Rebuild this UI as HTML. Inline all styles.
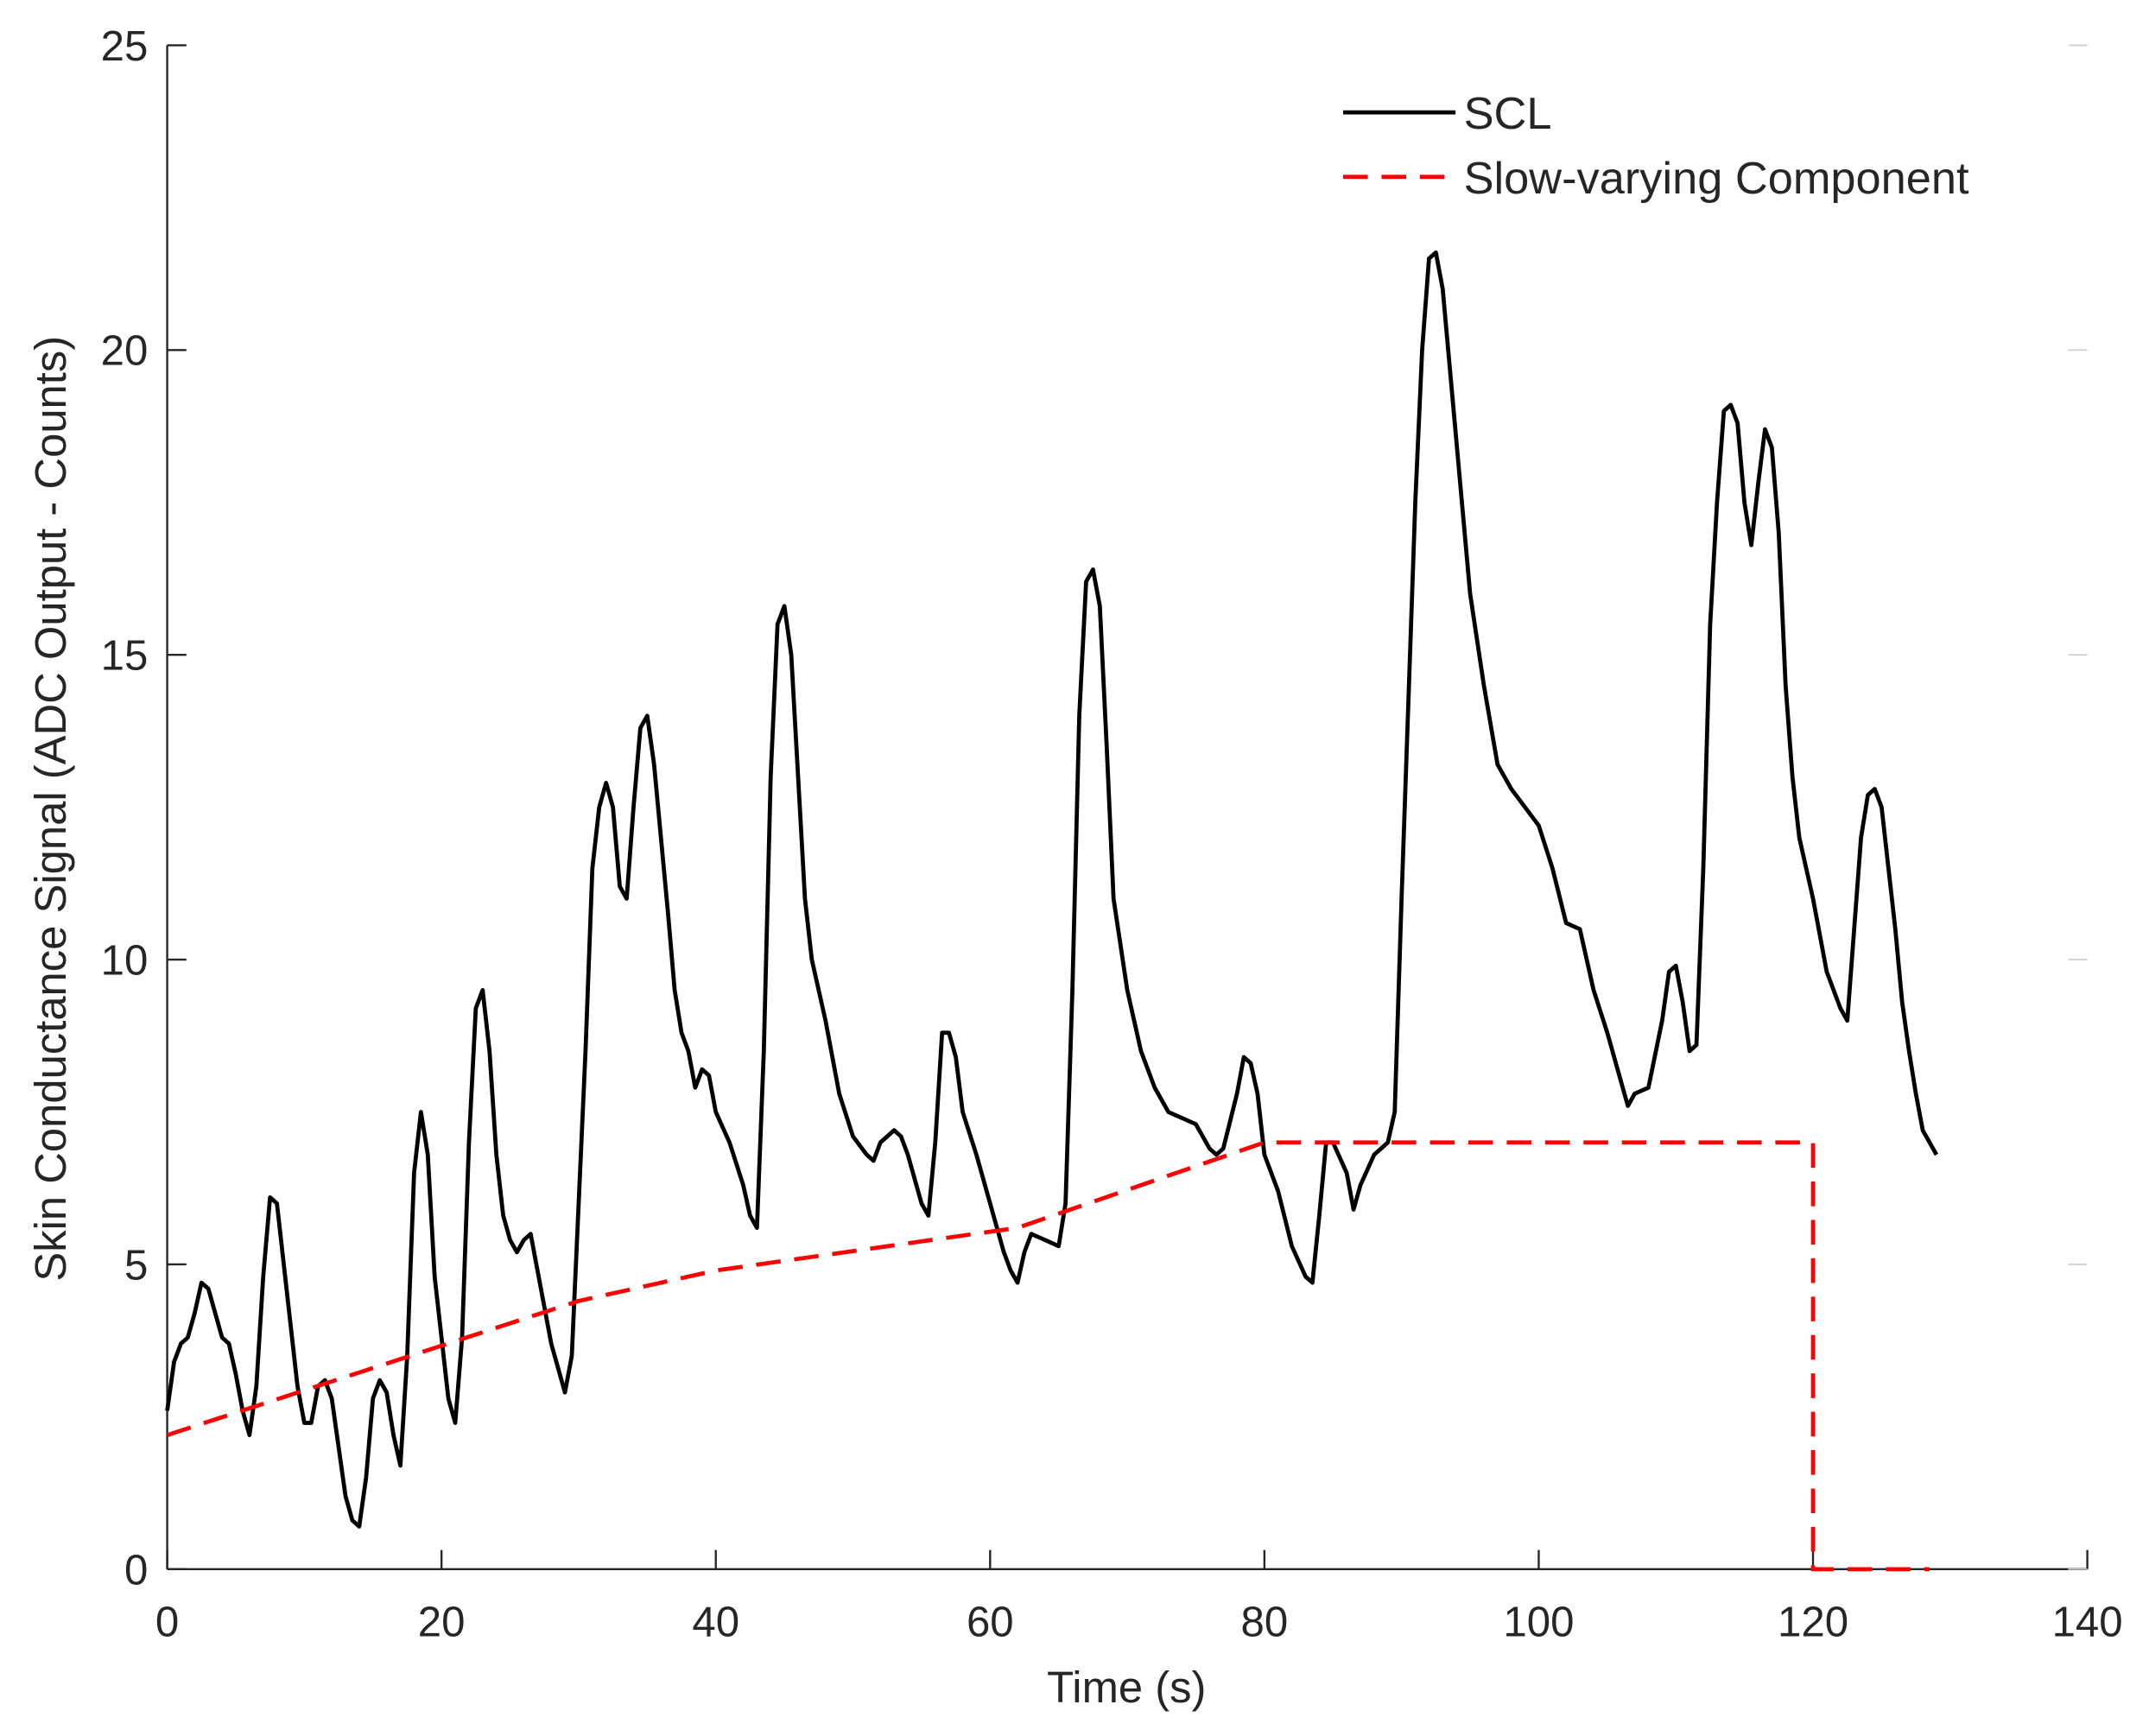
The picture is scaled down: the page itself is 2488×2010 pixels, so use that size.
<!DOCTYPE html>
<html><head><meta charset="utf-8"><style>
html,body{margin:0;padding:0;background:#fff}
svg{display:block}
text{font-family:"Liberation Sans",Arial,sans-serif;fill:#262626}
</style></head><body>
<svg id="chart" width="2488" height="2010" viewBox="0 0 1568 1266.7" xmlns="http://www.w3.org/2000/svg">
<g id="axes"></g>
<g id="series"></g>
<g>
<line x1="980" y1="82" x2="1062" y2="82" stroke="#000" stroke-width="3"/>
<text x="1068" y="94" font-size="33">SCL</text>
<line x1="980" y1="129" x2="1062" y2="129" stroke="#f00" stroke-width="3" stroke-dasharray="18,10"/>
<text x="1068" y="141" font-size="33">Slow-varying Component</text>
</g>
<text x="822" y="1242" font-size="32" text-anchor="middle">Time (s)</text>
<text transform="translate(48,590) rotate(-90)" font-size="32" text-anchor="middle">Skin Conductance Signal (ADC Output - Counts)</text>
</svg>
<script>
const xTicks=[0,20,40,60,80,100,120,140];
const yTicks=[0,5,10,15,20,25];
const sclTime=[0,0.5,1,1.5,2,2.5,3,3.5,4,4.5,5,5.5,6,6.5,7,7.5,8,8.5,9,9.5,10,10.5,11,11.5,12,12.5,13,13.5,14,14.5,15,15.5,16,16.5,17,17.5,18,18.5,19,19.5,20,20.5,21,21.5,22,22.5,23,23.5,24,24.5,25,25.5,26,26.5,27,27.5,28,28.5,29,29.5,30,30.5,31,31.5,32,32.5,33,33.5,34,34.5,35,35.5,36,36.5,37,37.5,38,38.5,39,39.5,40,41,42,42.5,43,43.5,44,44.5,45,45.5,46,46.5,47,48,49,50,51,51.5,52,53,53.5,54,55,55.5,56,56.5,57,57.5,58,59,60,61,61.5,62,62.5,63,64,65,65.5,66,66.5,67,67.5,68,68.5,69,70,71,72,73,74,75,76,76.5,77,78,78.5,79,79.5,80,81,82,83,83.5,84,84.5,85,86,86.5,87,88,89,89.5,90,91,91.5,92,92.5,93,94,95,96,97,98,99,100,101,102,103,104,105,106,106.5,107,108,109,109.5,110,110.5,111,111.5,112,112.5,113,113.5,114,114.5,115,115.5,116,116.5,117,117.5,118,118.5,119,120,121,122,122.5,123,123.5,124,124.5,125,125.5,126,126.5,127,127.5,128,128.5,129];
const sclValue=[2.6,3.4,3.7,3.8,4.2,4.7,4.6,4.2,3.8,3.7,3.2,2.6,2.2,3.0,4.8,6.1,6.0,5.0,4.0,3.0,2.4,2.4,3.0,3.1,2.8,2.0,1.2,0.8,0.7,1.5,2.8,3.1,2.9,2.2,1.7,3.5,6.5,7.5,6.8,4.8,3.8,2.8,2.4,3.8,7.0,9.2,9.5,8.5,6.8,5.8,5.4,5.2,5.4,5.5,4.9,4.3,3.7,3.3,2.9,3.5,6.0,8.5,11.5,12.5,12.9,12.5,11.2,11.0,12.5,13.8,14.0,13.2,12.0,10.8,9.5,8.8,8.5,7.9,8.2,8.1,7.5,7.0,6.3,5.8,5.6,8.5,13.0,15.5,15.8,15.0,13.0,11.0,10.0,9.0,7.8,7.1,6.8,6.7,7.0,7.2,7.1,6.8,6.0,5.8,7.0,8.8,8.8,8.4,7.5,6.8,6.0,5.2,4.9,4.7,5.2,5.5,5.4,5.3,6.0,9.5,14.0,16.2,16.4,15.8,13.5,11.0,9.5,8.5,7.9,7.5,7.4,7.3,6.9,6.8,6.9,7.8,8.4,8.3,7.8,6.8,6.2,5.3,4.8,4.7,5.8,7.0,7.0,6.5,5.9,6.3,6.8,7.0,7.5,11.0,17.5,20.0,21.5,21.6,21.0,18.5,16.0,14.5,13.2,12.8,12.5,12.2,11.5,10.6,10.5,9.5,8.8,8.0,7.6,7.8,7.9,9.0,9.8,9.9,9.3,8.5,8.6,11.5,15.5,17.5,19.0,19.1,18.8,17.5,16.8,17.8,18.7,18.4,17.0,14.5,13.0,12.0,11.0,9.8,9.2,9.0,10.5,12.0,12.7,12.8,12.5,11.5,10.5,9.3,8.5,7.8,7.2,7.0,6.8];
const slowTime=[0,30,40,62,80,120,120,128.5];
const slowValue=[2.2,4.4,4.9,5.6,7.0,7.0,0,0];

const X0=122,X1=1523,Y0=1145,Y1=33;
function sx(t){return X0+(t-0)/(140-0)*(X1-X0);}
function sy(v){return Y0-(v-0)/(25-0)*(Y0-Y1);}
const NS="http://www.w3.org/2000/svg";
const axes=document.getElementById('axes');
const series=document.getElementById('series');
function mk(tag,attrs,parent){const e=document.createElementNS(NS,tag);for(const k in attrs)e.setAttribute(k,attrs[k]);parent.appendChild(e);return e;}

let l=mk('line',{x1:X0,y1:Y0,x2:X1,y2:Y0,stroke:'#262626','stroke-width':1.5},axes);


l=mk('line',{x1:X0,y1:Y0,x2:X0,y2:Y1,stroke:'#262626','stroke-width':1.5},axes);



xTicks.forEach(t=>{
  const tk=mk('line',{x1:sx(t),y1:Y0,x2:sx(t),y2:Y0-14,stroke:'#262626','stroke-width':1.5},axes);
  
  
  const tx=mk('text',{x:sx(t),y:Y0+49,'font-size':31,'text-anchor':'middle'},axes);
  tx.textContent=t;
  
  
});
yTicks.forEach(v=>{
  const tk=mk('line',{x1:X0,y1:sy(v),x2:X0+14,y2:sy(v),stroke:'#262626','stroke-width':1.5},axes);
  
  
  const tk2=mk('line',{x1:X1-14,y1:sy(v),x2:X1,y2:sy(v),stroke:'#ccc','stroke-width':1},axes);
  
  
  const tx=mk('text',{x:X0-14,y:sy(v)+11,'font-size':31,'text-anchor':'end'},axes);
  tx.textContent=v;
  
  
});

const scl=mk('polyline',{points:sclTime.map((t,i)=>sx(t)+','+sy(sclValue[i])).join(' '),fill:'none',stroke:'#000','stroke-width':3,'stroke-linejoin':'round'},series);


const slow=mk('polyline',{points:slowTime.map((t,i)=>sx(t)+','+sy(slowValue[i])).join(' '),fill:'none',stroke:'#f00','stroke-width':3,'stroke-dasharray':'18,10'},series);


</script>
</body></html>
